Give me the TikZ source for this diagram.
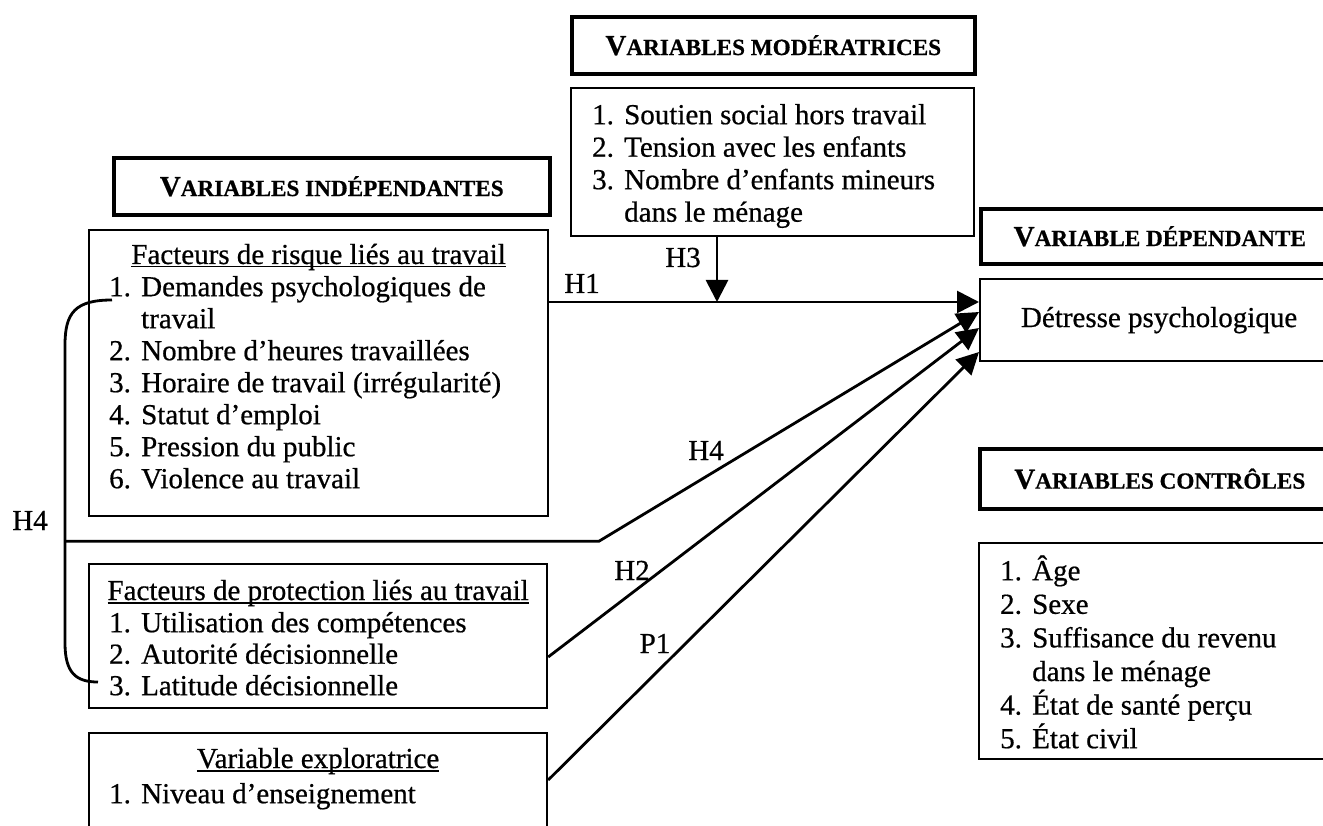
\documentclass[tikz,border=0pt]{standalone}
\usepackage{fontspec}
\setmainfont{Liberation Serif}[FakeBold=0.6]
\usetikzlibrary{arrows.meta,calc}

% bold fake small caps: first letter full size, rest reduced
\newcommand\scapt[2]{{\bfseries #1\fontsize{23.2}{26}\selectfont #2}}
% underline that sits just below the baseline
\newcommand\undl[1]{\leavevmode\setbox0=\hbox{#1}\rlap{\rule[-3.5pt]{\wd0}{1.4pt}}\box0}
% numbered item with hanging indent, and a continuation line
\newcommand\itm[2]{\makebox[32pt][l]{#1}#2}
\newcommand\cont[1]{\hspace*{32pt}#1}
% strut fixing the top of a list block
\newcommand\fl{\rule{0pt}{28pt}}

\tikzset{
  basefont/.style={font=\fontsize{29}{32.5}\selectfont, inner sep=0pt},
  titlebox/.style={basefont, draw, line width=3.6pt, anchor=north west},
  listbox/.style={draw, line width=2.2pt, anchor=north west, inner sep=0pt},
  itemtext/.style={basefont, align=left, anchor=north west},
  subttl/.style={basefont, anchor=base},
  lbl/.style={basefont, anchor=base},
  conn/.style={line width=2.8pt, -{Triangle[length=22pt,width=22pt]}},
  bracket/.style={line width=2.8pt}
}

\begin{document}
\begin{tikzpicture}[x=1pt, y=-1pt]
\useasboundingbox (0,0) rectangle (1323,826);
\fill[white] (0,0) rectangle (1323,826);
\clip (0,0) rectangle (1323,826);

% ---- moderators ----
\node[titlebox, minimum width=403pt, minimum height=57pt] (modt) at (570,15)
  {\scapt{V}{ARIABLES MODÉRATRICES}};
\node[listbox, minimum width=403pt, minimum height=148pt] (mod) at (570,87) {};
\node[itemtext] (modtxt) at ($(mod.north west)+(22,9)$)
  {\fl\itm{1.}{Soutien social hors travail}\\
   \itm{2.}{Tension avec les enfants}\\
   \itm{3.}{Nombre d’enfants mineurs}\\
   \cont{dans le ménage}};

% ---- independent variables ----
\node[titlebox, minimum width=436pt, minimum height=57pt] (indt) at (112,156)
  {\scapt{V}{ARIABLES INDÉPENDANTES}};

\node[listbox, minimum width=459pt, minimum height=286pt] (risk) at (88,229) {};
\node[subttl] (risktl) at ($(risk.north)+(0,35)$)
  {\undl{Facteurs de risque liés au travail}};
\node[itemtext, font=\fontsize{29}{32}\selectfont] (risktxt) at ($(risk.north west)+(21,39)$)
  {\fl\itm{1.}{Demandes psychologiques de}\\
   \cont{travail}\\
   \itm{2.}{Nombre d’heures travaillées}\\
   \itm{3.}{Horaire de travail (irrégularité)}\\
   \itm{4.}{Statut d’emploi}\\
   \itm{5.}{Pression du public}\\
   \itm{6.}{Violence au travail}};

\node[listbox, minimum width=458pt, minimum height=144pt] (prot) at (88,563) {};
\node[subttl] (prottl) at ($(prot.north)+(0,37)$)
  {\undl{Facteurs de protection liés au travail}};
\node[itemtext, font=\fontsize{29}{31.5}\selectfont] (prottxt) at ($(prot.north west)+(21,41)$)
  {\fl\itm{1.}{Utilisation des compétences}\\
   \itm{2.}{Autorité décisionnelle}\\
   \itm{3.}{Latitude décisionnelle}};

\node[listbox, minimum width=458pt, minimum height=130pt] (expl) at (88,732) {};
\node[subttl] (expltl) at ($(expl.north)+(0,36)$)
  {\undl{Variable exploratrice}};
\node[itemtext] (expltxt) at ($(expl.north west)+(21,43)$)
  {\fl\itm{1.}{Niveau d’enseignement}};

% ---- dependent variable ----
\node[titlebox, minimum width=358pt, minimum height=55pt] (dept) at (979,207)
  {\scapt{V}{ARIABLE DÉPENDANTE}};
\node[listbox, basefont, minimum width=358pt, minimum height=82pt] (det) at (979,278)
  {Détresse psychologique};

% ---- control variables ----
\node[titlebox, minimum width=360pt, minimum height=60pt] (ctlt) at (978,447)
  {\scapt{V}{ARIABLES CONTRÔLES}};
\node[listbox, minimum width=360pt, minimum height=216pt] (ctl) at (978,542) {};
\node[itemtext, font=\fontsize{29}{33.6}\selectfont] (ctltxt) at ($(ctl.north west)+(22,10)$)
  {\fl\itm{1.}{Âge}\\
   \itm{2.}{Sexe}\\
   \itm{3.}{Suffisance du revenu}\\
   \cont{dans le ménage}\\
   \itm{4.}{État de santé perçu}\\
   \itm{5.}{État civil}};

% ---- connectors ----
\coordinate (h1tip) at ($(det.north west)+(0,24)$);
\coordinate (h4tip) at ($(det.north west)+(0,34)$);
\coordinate (h2tip) at ($(det.north west)+(0,50)$);
\coordinate (p1tip) at ($(det.north west)+(0,74)$);

\draw[conn] (h1tip -| risk.east) -- (h1tip);

\coordinate (h3top) at ($(mod.south west)+(147,0)$);
\draw[conn] (h3top) -- (h3top |- h1tip);

\draw[conn] ($(prot.north east)+(0,94)$) -- (h2tip);
\draw[conn] ($(expl.north east)+(0,48)$) -- (p1tip);

% bracket joining the two work-factor blocks, with its branch
\coordinate (h4a) at ($(risk.north west)+(24,71)$);
\coordinate (h4b) at ($(prot.north west)+(10,119)$);
\coordinate (h4k) at ($(risk.south west)+(-23,24)$);
\coordinate (h4e) at ($(h4k)+(534,0)$);
\draw[bracket] (h4a) .. controls +(-37,0) and +(0,-32) .. ($(h4a)+(-47,45)$)
  -- ($(h4b)+(-33,-39)$) .. controls +(0,30) and +(-22,0) .. (h4b);
\draw[conn] (h4k) -- (h4e) -- (h4tip);

% ---- hypothesis labels ----
\node[lbl] (h1l) at (582,293) {H1};
\node[lbl] (h3l) at (683,267) {H3};
\node[lbl] (h4l) at (706,460) {H4};
\node[lbl] (h2l) at (632,580) {H2};
\node[lbl] (p1l) at (655,653) {P1};
\node[lbl] (h4side) at (30,530) {H4};
\end{tikzpicture}
\end{document}
